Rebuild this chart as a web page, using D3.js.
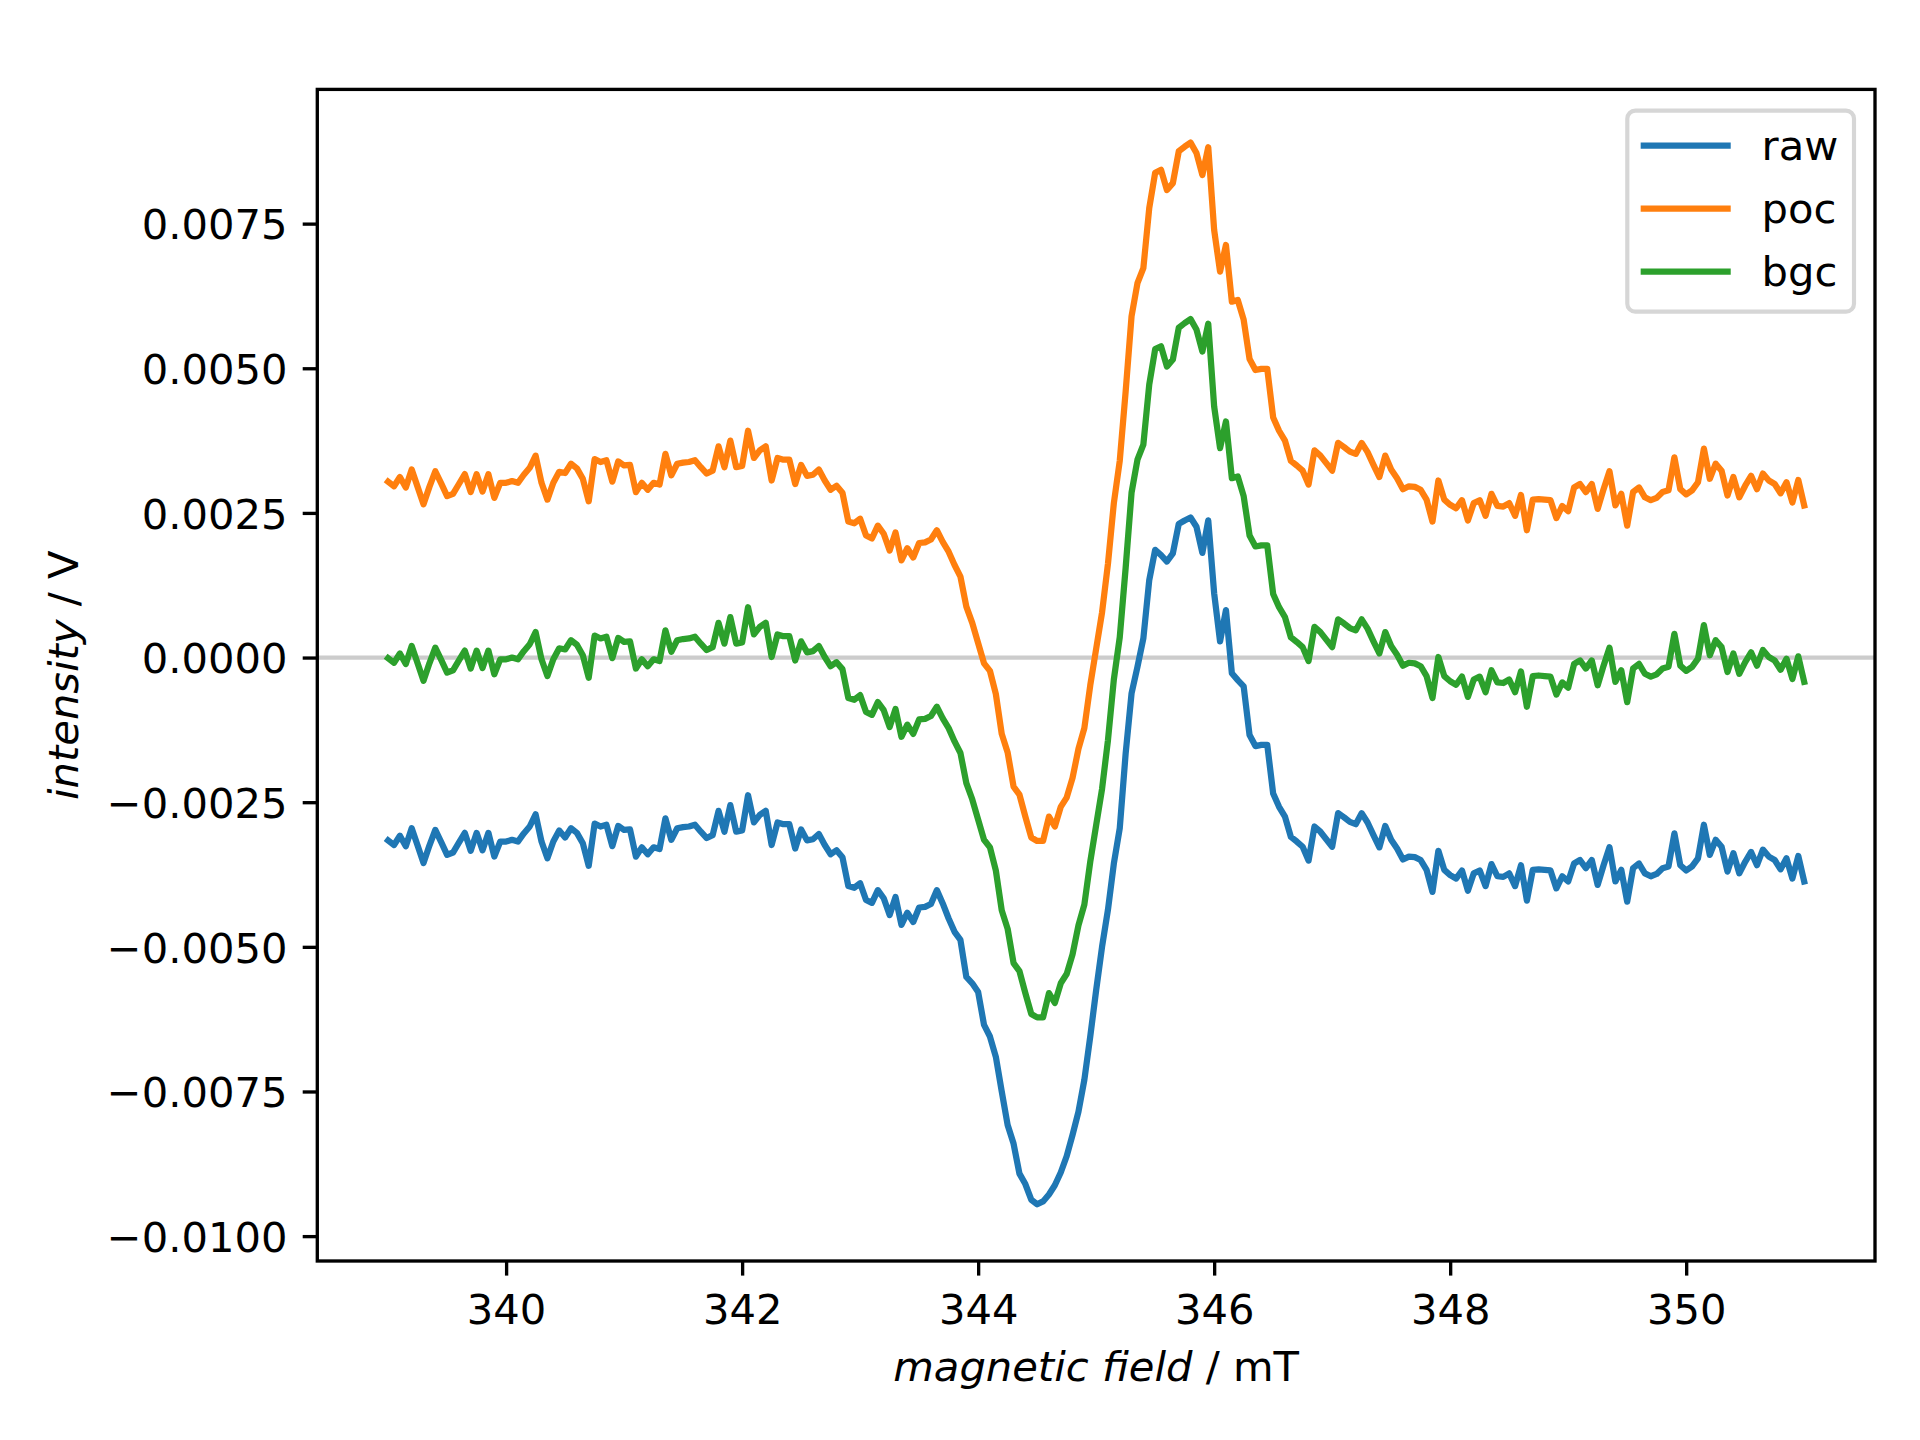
<!DOCTYPE html>
<html><head><meta charset="utf-8">
<script src="https://cdn.jsdelivr.net/npm/d3@7"></script>
<style>body{margin:0;background:#fff}svg{display:block;font-family:"DejaVu Sans",sans-serif}</style>
</head><body>
<svg id="chart" width="1920" height="1440"></svg>
<script>
// sampling grid of the field axis (mT)
const fieldStart = 339, fieldStep = 0.05;

const raw = [
-0.00316,-0.00324,-0.00308,-0.00326,-0.00295,-0.00325,-0.00355,-0.00325,-0.00298,-0.00319,
-0.00341,-0.00337,-0.00320,-0.00303,-0.00334,-0.00303,-0.00333,-0.00303,-0.00344,-0.00318,
-0.00318,-0.00315,-0.00318,-0.00304,-0.00292,-0.00271,-0.00318,-0.00347,-0.00318,-0.00299,
-0.00311,-0.00295,-0.00303,-0.00321,-0.00360,-0.00287,-0.00292,-0.00289,-0.00326,-0.00291,
-0.00298,-0.00297,-0.00344,-0.00328,-0.00340,-0.00328,-0.00331,-0.00278,-0.00315,-0.00295,
-0.00293,-0.00292,-0.00289,-0.00301,-0.00312,-0.00307,-0.00265,-0.00301,-0.00255,-0.00301,
-0.00299,-0.00238,-0.00285,-0.00272,-0.00265,-0.00324,-0.00285,-0.00288,-0.00288,-0.00330,
-0.00297,-0.00316,-0.00314,-0.00305,-0.00324,-0.00340,-0.00333,-0.00345,-0.00395,-0.00398,
-0.00390,-0.00419,-0.00424,-0.00402,-0.00416,-0.00445,-0.00414,-0.00462,-0.00441,-0.00457,
-0.00432,-0.00431,-0.00426,-0.00402,-0.00425,-0.00451,-0.00474,-0.00488,-0.00552,-0.00563,
-0.00578,-0.00635,-0.00655,-0.00690,-0.00750,-0.00808,-0.00840,-0.00892,-0.00910,-0.00937,
-0.00945,-0.00940,-0.00928,-0.00912,-0.00890,-0.00862,-0.00825,-0.00785,-0.00730,-0.00655,
-0.00575,-0.00500,-0.00436,-0.00356,-0.00295,-0.00166,-0.00062,-0.00016,0.00033,0.00134,
0.00186,0.00177,0.00166,0.00180,0.00231,0.00237,0.00242,0.00226,0.00181,0.00237,
0.00111,0.00028,0.00082,-0.00027,-0.00039,-0.00050,-0.00134,-0.00153,-0.00151,-0.00151,
-0.00235,-0.00258,-0.00275,-0.00310,-0.00318,-0.00327,-0.00351,-0.00292,-0.00301,-0.00314,
-0.00327,-0.00269,-0.00276,-0.00284,-0.00288,-0.00269,-0.00285,-0.00307,-0.00328,-0.00291,
-0.00315,-0.00330,-0.00349,-0.00344,-0.00345,-0.00350,-0.00367,-0.00405,-0.00334,-0.00367,
-0.00376,-0.00382,-0.00368,-0.00403,-0.00373,-0.00368,-0.00395,-0.00357,-0.00378,-0.00379,
-0.00373,-0.00395,-0.00359,-0.00420,-0.00367,-0.00366,-0.00367,-0.00368,-0.00399,-0.00378,
-0.00387,-0.00356,-0.00350,-0.00364,-0.00350,-0.00393,-0.00359,-0.00328,-0.00387,-0.00367,
-0.00422,-0.00364,-0.00356,-0.00373,-0.00378,-0.00374,-0.00364,-0.00361,-0.00304,-0.00359,
-0.00368,-0.00361,-0.00347,-0.00289,-0.00341,-0.00315,-0.00327,-0.00370,-0.00338,-0.00373,
-0.00353,-0.00336,-0.00359,-0.00332,-0.00344,-0.00350,-0.00366,-0.00347,-0.00382,-0.00343,
-0.00387
];

const poc = [
0.00304,0.00296,0.00312,0.00294,0.00325,0.00295,0.00265,0.00295,0.00322,0.00301,
0.00279,0.00283,0.00300,0.00317,0.00286,0.00317,0.00287,0.00317,0.00276,0.00302,
0.00302,0.00305,0.00302,0.00316,0.00328,0.00349,0.00302,0.00273,0.00302,0.00321,
0.00319,0.00335,0.00327,0.00309,0.00270,0.00343,0.00338,0.00341,0.00304,0.00339,
0.00332,0.00333,0.00286,0.00302,0.00290,0.00302,0.00299,0.00352,0.00315,0.00335,
0.00337,0.00338,0.00341,0.00329,0.00318,0.00323,0.00365,0.00329,0.00375,0.00329,
0.00331,0.00392,0.00345,0.00358,0.00365,0.00306,0.00345,0.00342,0.00342,0.00300,
0.00333,0.00314,0.00316,0.00325,0.00306,0.00290,0.00297,0.00285,0.00235,0.00232,
0.00240,0.00211,0.00206,0.00228,0.00214,0.00185,0.00216,0.00168,0.00189,0.00173,
0.00198,0.00199,0.00204,0.00220,0.00200,0.00183,0.00160,0.00140,0.00088,0.00060,
0.00025,-0.00010,-0.00023,-0.00063,-0.00132,-0.00164,-0.00223,-0.00237,-0.00275,-0.00311,
-0.00317,-0.00317,-0.00275,-0.00292,-0.00258,-0.00242,-0.00208,-0.00158,-0.00122,-0.00048,
0.00015,0.00078,0.00162,0.00267,0.00340,0.00460,0.00590,0.00647,0.00673,0.00777,
0.00838,0.00843,0.00808,0.00820,0.00875,0.00883,0.00890,0.00872,0.00834,0.00882,
0.00739,0.00667,0.00713,0.00615,0.00618,0.00584,0.00516,0.00497,0.00499,0.00499,
0.00415,0.00392,0.00375,0.00340,0.00332,0.00323,0.00299,0.00358,0.00349,0.00336,
0.00323,0.00371,0.00364,0.00356,0.00352,0.00371,0.00355,0.00333,0.00312,0.00349,
0.00325,0.00310,0.00291,0.00296,0.00295,0.00290,0.00273,0.00235,0.00306,0.00273,
0.00264,0.00258,0.00272,0.00237,0.00267,0.00272,0.00245,0.00283,0.00262,0.00261,
0.00267,0.00245,0.00281,0.00220,0.00273,0.00274,0.00273,0.00272,0.00241,0.00262,
0.00253,0.00294,0.00300,0.00286,0.00300,0.00257,0.00291,0.00322,0.00263,0.00283,
0.00228,0.00286,0.00294,0.00277,0.00272,0.00276,0.00286,0.00289,0.00346,0.00291,
0.00282,0.00289,0.00303,0.00361,0.00309,0.00335,0.00323,0.00280,0.00312,0.00277,
0.00297,0.00314,0.00291,0.00318,0.00306,0.00300,0.00284,0.00303,0.00268,0.00307,
0.00263
];

const bgc = [
-0.00001,-0.00009,0.00007,-0.00011,0.00020,-0.00010,-0.00040,-0.00010,0.00017,-0.00004,
-0.00026,-0.00022,-0.00005,0.00012,-0.00019,0.00012,-0.00018,0.00012,-0.00029,-0.00003,
-0.00003,0.00000,-0.00003,0.00011,0.00023,0.00044,-0.00003,-0.00032,-0.00003,0.00016,
0.00014,0.00030,0.00022,0.00004,-0.00035,0.00038,0.00033,0.00036,-0.00001,0.00034,
0.00027,0.00028,-0.00019,-0.00003,-0.00015,-0.00003,-0.00006,0.00047,0.00010,0.00030,
0.00032,0.00033,0.00036,0.00024,0.00013,0.00018,0.00060,0.00024,0.00070,0.00024,
0.00026,0.00087,0.00040,0.00053,0.00060,0.00001,0.00040,0.00037,0.00037,-0.00005,
0.00028,0.00009,0.00011,0.00020,0.00001,-0.00015,-0.00008,-0.00020,-0.00070,-0.00073,
-0.00065,-0.00094,-0.00099,-0.00077,-0.00091,-0.00120,-0.00089,-0.00137,-0.00116,-0.00132,
-0.00107,-0.00106,-0.00101,-0.00085,-0.00105,-0.00122,-0.00145,-0.00165,-0.00217,-0.00245,
-0.00280,-0.00315,-0.00328,-0.00368,-0.00437,-0.00469,-0.00528,-0.00542,-0.00580,-0.00616,
-0.00622,-0.00622,-0.00580,-0.00597,-0.00563,-0.00547,-0.00513,-0.00463,-0.00427,-0.00353,
-0.00290,-0.00227,-0.00143,-0.00038,0.00035,0.00155,0.00285,0.00342,0.00368,0.00472,
0.00533,0.00538,0.00503,0.00515,0.00570,0.00578,0.00585,0.00567,0.00529,0.00577,
0.00434,0.00362,0.00408,0.00310,0.00313,0.00279,0.00211,0.00192,0.00194,0.00194,
0.00110,0.00087,0.00070,0.00035,0.00027,0.00018,-0.00006,0.00053,0.00044,0.00031,
0.00018,0.00066,0.00059,0.00051,0.00047,0.00066,0.00050,0.00028,0.00007,0.00044,
0.00020,0.00005,-0.00014,-0.00009,-0.00010,-0.00015,-0.00032,-0.00070,0.00001,-0.00032,
-0.00041,-0.00047,-0.00033,-0.00068,-0.00038,-0.00033,-0.00060,-0.00022,-0.00043,-0.00044,
-0.00038,-0.00060,-0.00024,-0.00085,-0.00032,-0.00031,-0.00032,-0.00033,-0.00064,-0.00043,
-0.00052,-0.00011,-0.00005,-0.00019,-0.00005,-0.00048,-0.00014,0.00017,-0.00042,-0.00022,
-0.00077,-0.00019,-0.00011,-0.00028,-0.00033,-0.00029,-0.00019,-0.00016,0.00041,-0.00014,
-0.00023,-0.00016,-0.00002,0.00056,0.00004,0.00030,0.00018,-0.00025,0.00007,-0.00028,
-0.00008,0.00009,-0.00014,0.00013,0.00001,-0.00005,-0.00021,-0.00002,-0.00037,0.00002,
-0.00042
];

const seriesNames = ["raw", "poc", "bgc"];
const seriesColors = ["#1f77b4", "#ff7f0e", "#2ca02c"];
const xTicks = [340, 342, 344, 346, 348, 350];
const yTicks = [-0.01, -0.0075, -0.005, -0.0025, 0, 0.0025, 0.005, 0.0075];
const xDomain = [338.4, 351.6];
const yDomain = [-0.01043, 0.00982];

const M = {left: 317.3, right: 1875, top: 89.4, bottom: 1261};
const FS = 41.67;         // 10pt @300dpi
const LW = 6.25;          // 1.5pt
const SW = 3.33;          // 0.8pt

const svg = d3.select("#chart");
const x = d3.scaleLinear().domain(xDomain).range([M.left, M.right]);
const y = d3.scaleLinear().domain(yDomain).range([M.bottom, M.top]);
const field = raw.map((_, i) => fieldStart + i * fieldStep);
const allSeries = [raw, poc, bgc];

svg.append("defs").append("clipPath").attr("id", "clip")
  .append("rect").attr("x", M.left).attr("y", M.top)
  .attr("width", M.right - M.left).attr("height", M.bottom - M.top);

const plot = svg.append("g").attr("clip-path", "url(#clip)");

// zero reference line
plot.append("line")
  .attr("x1", M.left).attr("x2", M.right)
  .attr("y1", y(0)).attr("y2", y(0))
  .attr("stroke", "#cccccc").attr("stroke-width", 4.17);

const line = d3.line().x((d, i) => x(field[i])).y(d => y(d));
allSeries.forEach((s, k) => {
  plot.append("path").datum(s)
    .attr("d", line)
    .attr("fill", "none")
    .attr("stroke", seriesColors[k])
    .attr("stroke-width", LW)
    .attr("stroke-linejoin", "round")
    .attr("stroke-linecap", "square");
});

// axes
const fmtY = d3.format(".4f");
const xAxis = svg.append("g").attr("transform", `translate(0,${M.bottom})`)
  .call(d3.axisBottom(x).tickValues(xTicks).tickSize(14.6).tickSizeOuter(0).tickFormat(d3.format("d")));
xAxis.select(".domain").remove();
xAxis.selectAll(".tick line").attr("stroke", "#000").attr("stroke-width", SW);
xAxis.selectAll(".tick text").attr("y", 63).attr("dy", 0)
  .attr("font-size", FS).attr("font-family", "DejaVu Sans").attr("fill", "#000");

const yAxis = svg.append("g").attr("transform", `translate(${M.left},0)`)
  .call(d3.axisLeft(y).tickValues(yTicks).tickSize(14.6).tickSizeOuter(0).tickFormat(fmtY));
yAxis.select(".domain").remove();
yAxis.selectAll(".tick line").attr("stroke", "#000").attr("stroke-width", SW);
yAxis.selectAll(".tick text").attr("x", -29.8).attr("dy", 15.2)
  .attr("font-size", FS).attr("font-family", "DejaVu Sans").attr("fill", "#000");

// spines
svg.append("rect")
  .attr("x", M.left).attr("y", M.top)
  .attr("width", M.right - M.left).attr("height", M.bottom - M.top)
  .attr("fill", "none").attr("stroke", "#000").attr("stroke-width", SW);

// axis labels
const xl = svg.append("text")
  .attr("x", (M.left + M.right) / 2).attr("y", 1381)
  .attr("text-anchor", "middle").attr("font-size", FS).attr("fill", "#000");
xl.append("tspan").attr("font-style", "italic").text("magnetic field");
xl.append("tspan").text(" / mT");

const yl = svg.append("text")
  .attr("transform", `translate(78,${(M.top + M.bottom) / 2}) rotate(-90)`)
  .attr("text-anchor", "middle").attr("font-size", FS).attr("fill", "#000");
yl.append("tspan").attr("font-style", "italic").text("intensity");
yl.append("tspan").text(" / V");

// legend
const lg = svg.append("g");
lg.append("rect")
  .attr("x", 1627.3).attr("y", 110.7).attr("width", 226.7).attr("height", 201)
  .attr("rx", 8).attr("ry", 8)
  .attr("fill", "#fff").attr("fill-opacity", 0.8)
  .attr("stroke", "#d6d6d6").attr("stroke-width", 4.17);
seriesNames.forEach((name, k) => {
  const ly = 145.7 + k * 63;
  lg.append("line")
    .attr("x1", 1643.8).attr("x2", 1727.6).attr("y1", ly).attr("y2", ly)
    .attr("stroke", seriesColors[k]).attr("stroke-width", LW).attr("stroke-linecap", "square");
  lg.append("text").attr("x", 1761.5).attr("y", ly + 14.5)
    .attr("font-size", FS).attr("fill", "#000").text(name);
});
</script>
</body></html>
